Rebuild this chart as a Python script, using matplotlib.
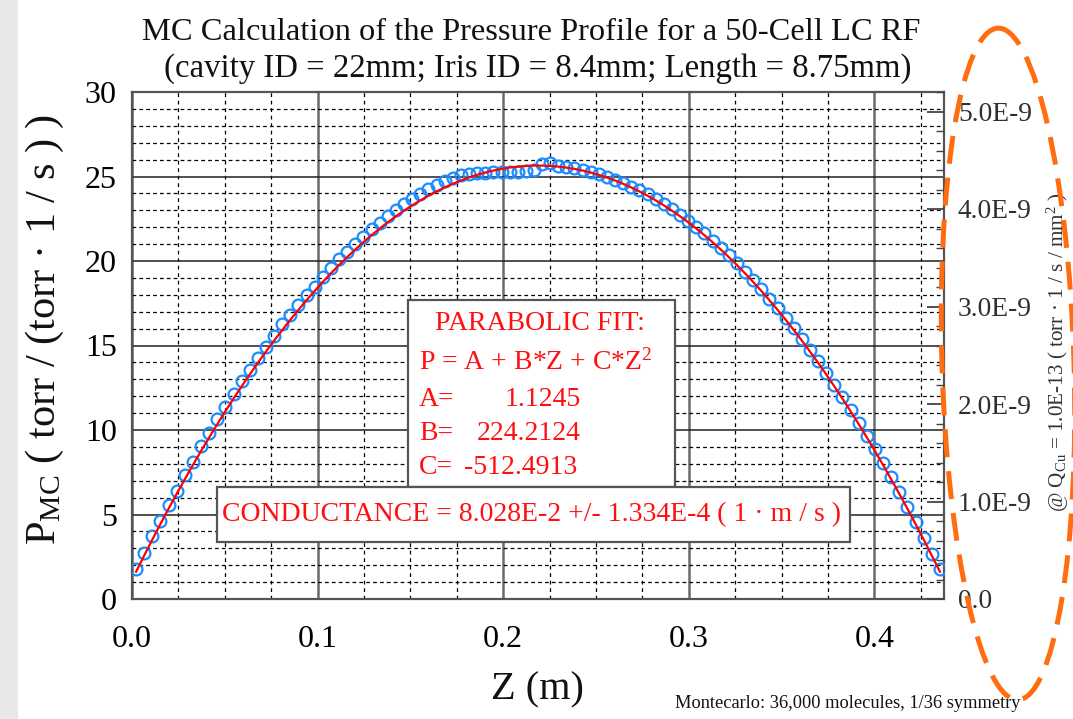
import numpy as np
import matplotlib
matplotlib.use("Agg")
import matplotlib.pyplot as plt
from matplotlib.patches import Ellipse, Rectangle
from matplotlib.ticker import MultipleLocator, FixedLocator

plt.rcParams['font.family'] = ['Liberation Serif', 'DejaVu Serif']
plt.rcParams['mathtext.fontset'] = 'custom'
plt.rcParams['mathtext.rm'] = 'Liberation Serif'
plt.rcParams['mathtext.it'] = 'Liberation Serif:italic'

# ---------------- data ----------------
z_m = [0.0022, 0.0066, 0.0109, 0.0153, 0.0197, 0.0241, 0.0284, 0.0328, 0.0372, 0.0416,
       0.0459, 0.0503, 0.0547, 0.0591, 0.0634, 0.0678, 0.0722, 0.0766, 0.0809, 0.0853,
       0.0897, 0.0941, 0.0984, 0.1028, 0.1072, 0.1116, 0.1159, 0.1203, 0.1247, 0.1291,
       0.1334, 0.1378, 0.1422, 0.1466, 0.1509, 0.1553, 0.1597, 0.1641, 0.1684, 0.1728,
       0.1772, 0.1816, 0.1859, 0.1903, 0.1947, 0.1991, 0.2034, 0.2078, 0.2122, 0.2166,
       0.2209, 0.2253, 0.2297, 0.2341, 0.2384, 0.2428, 0.2472, 0.2516, 0.2559, 0.2603,
       0.2647, 0.2691, 0.2734, 0.2778, 0.2822, 0.2866, 0.2909, 0.2953, 0.2997, 0.3041,
       0.3084, 0.3128, 0.3172, 0.3216, 0.3259, 0.3303, 0.3347, 0.3391, 0.3434, 0.3478,
       0.3522, 0.3566, 0.3609, 0.3653, 0.3697, 0.3741, 0.3784, 0.3828, 0.3872, 0.3916,
       0.3959, 0.4003, 0.4047, 0.4091, 0.4134, 0.4178, 0.4222, 0.4266, 0.4309, 0.4353]
p_mc = [1.76, 2.72, 3.72, 4.64, 5.54, 6.42, 7.34, 8.13, 9.05, 9.81,
        10.64, 11.36, 12.15, 12.88, 13.54, 14.27, 14.94, 15.59, 16.26, 16.82,
        17.41, 17.98, 18.48, 19.06, 19.57, 20.11, 20.53, 21.03, 21.41, 21.88,
        22.27, 22.69, 22.99, 23.38, 23.69, 23.99, 24.26, 24.51, 24.75, 24.92,
        25.06, 25.14, 25.20, 25.23, 25.25, 25.25, 25.28, 25.29, 25.33, 25.39,
        25.74, 25.80, 25.64, 25.58, 25.50, 25.40, 25.28, 25.15, 24.99, 24.81,
        24.62, 24.40, 24.21, 23.96, 23.69, 23.39, 23.08, 22.74, 22.39, 22.02,
        21.63, 21.21, 20.78, 20.33, 19.86, 19.37, 18.86, 18.33, 17.78, 17.21,
        16.62, 16.01, 15.39, 14.74, 14.07, 13.39, 12.68, 11.95, 11.21, 10.44,
        9.66, 8.85, 8.03, 7.19, 6.32, 5.44, 4.54, 3.62, 2.67, 1.76]

# parabolic fit coefficients (as printed on the chart)
fit_A = 1.1245
fit_B = 224.2124
fit_C = -512.4913

left_ticks = [0, 5, 10, 15, 20, 25, 30]
x_ticks = [0.0, 0.1, 0.2, 0.3, 0.4]
x_tick_labels = ["0.0", "0.1", "0.2", "0.3", "0.4"]
right_ticks = [0.0, 1.0e-9, 2.0e-9, 3.0e-9, 4.0e-9, 5.0e-9]
right_tick_labels = ["0.0", "1.0E-9", "2.0E-9", "3.0E-9", "4.0E-9", "5.0E-9"]

# ---------------- figure ----------------
W, H = 1073, 719
fig = plt.figure(figsize=(W / 100, H / 100), dpi=100)
fig.patch.set_facecolor('white')

def fx(x):
    return x / W

def fy(y):
    return 1 - y / H

L, R, T, B = 132, 944, 92, 599
ax = fig.add_axes([fx(L), fy(B), (R - L) / W, (B - T) / H])
ax.set_xlim(0, 0.4375)
ax.set_ylim(0, 30)

ax.xaxis.set_major_locator(FixedLocator(x_ticks))
ax.set_xticklabels(x_tick_labels)
ax.xaxis.set_minor_locator(MultipleLocator(0.025))
ax.yaxis.set_major_locator(FixedLocator(left_ticks))
ax.yaxis.set_minor_locator(MultipleLocator(1))

ax.grid(which='minor', axis='x', color='black', linestyle=(0, (3, 3)), linewidth=0.9)
ax.grid(which='minor', axis='y', color='black', linestyle=(0, (3, 2.5)), linewidth=0.9)
ax.grid(which='major', axis='x', color='#6a6a6a', linestyle='-', linewidth=1.8)
ax.grid(which='major', axis='y', color='#202020', linestyle='-', linewidth=1.1)
ax.set_axisbelow(True)

ax.tick_params(which='both', length=0)
ax.tick_params(axis='y', labelsize=23, pad=11)
ax.tick_params(axis='x', labelsize=23, pad=19)
for s in ax.spines.values():
    s.set_color('#555555')
    s.set_linewidth(1.6)

ax.plot(z_m, p_mc, linestyle='none', marker='o', markersize=8.5,
        markerfacecolor='none', markeredgecolor='#1a8cff', markeredgewidth=1.6, zorder=3)
zz = np.linspace(z_m[0], z_m[-1], 300)
ax.plot(zz, fit_A + fit_B * zz + fit_C * zz ** 2, color='#ff0000', linewidth=1.6, zorder=4)

# right axis
ax2 = ax.twinx()
ax2.set_ylim(0, 5.2e-9)
ax2.yaxis.set_major_locator(FixedLocator(right_ticks))
ax2.set_yticklabels(right_tick_labels)
ax2.yaxis.set_minor_locator(MultipleLocator(0.2e-9))
ax2.tick_params(axis='y', which='major', direction='in', length=12, width=1.3,
                color='#444444', labelsize=19.8, pad=10, labelcolor='#303030')
ax2.tick_params(axis='y', which='minor', direction='in', length=6, width=1.0, color='#444444')
for s in ax2.spines.values():
    s.set_visible(False)

# ---------------- overlay in pixel coords ----------------
ov = fig.add_axes([0, 0, 1, 1], facecolor='none')
ov.set_xlim(0, W)
ov.set_ylim(H, 0)
ov.axis('off')

# faint textured strip at left edge
ov.add_patch(Rectangle((0, 0), 18, H, facecolor='#e8e8e8', edgecolor='none', zorder=0))

# title
ov.text(531, 33, "MC Calculation of the Pressure Profile for a 50-Cell LC RF",
        ha='center', va='center', fontsize=23.4, color='#111111')
ov.text(538, 69, "(cavity ID = 22mm; Iris ID = 8.4mm; Length = 8.75mm)",
        ha='center', va='center', fontsize=23.6, color='#111111')

# axis labels
ov.text(45, 329, r"P$_{\mathrm{MC}}$ ( torr / (torr · 1 / s ) )", rotation=90,
        ha='center', va='center', fontsize=30.5, color='#111111')
ov.text(537, 690, "Z (m)", ha='center', va='center', fontsize=29, color='#111111')
ov.text(1058, 352, r"@ Q$_{\mathrm{Cu}}$ = 1.0E-13 ( torr · 1 / s / mm$^{2}$ )",
        rotation=90, ha='center', va='center', fontsize=15.2, color='#333333')
ov.text(848, 703, "Montecarlo: 36,000 molecules, 1/36 symmetry",
        ha='center', va='center', fontsize=13.2, color='#111111')

# parabolic fit box
ov.add_patch(Rectangle((408, 300), 267, 187, facecolor='white', edgecolor='#555555',
                       linewidth=1.6, zorder=2))
red = '#ff1010'
ov.text(540, 323, "PARABOLIC FIT:", ha='center', va='center', fontsize=20, color=red, zorder=3)
ov.text(419, 362, r"P = A + B*Z + C*Z$^{2}$", ha='left', va='center', fontsize=20,
        color=red, zorder=3)
ov.text(419, 400, "A=", ha='left', va='center', fontsize=20, color=red, zorder=3)
ov.text(581, 400, "1.1245", ha='right', va='center', fontsize=20, color=red, zorder=3)
ov.text(419, 433, "B=", ha='left', va='center', fontsize=20, color=red, zorder=3)
ov.text(581, 433, "224.2124", ha='right', va='center', fontsize=20, color=red, zorder=3)
ov.text(419, 467, "C=", ha='left', va='center', fontsize=20, color=red, zorder=3)
ov.text(577, 467, "-512.4913", ha='right', va='center', fontsize=20, color=red, zorder=3)

# conductance box
ov.add_patch(Rectangle((217, 487), 633, 55, facecolor='white', edgecolor='#555555',
                       linewidth=1.6, zorder=2))
ov.text(222, 515, "CONDUCTANCE = 8.028E-2 +/- 1.334E-4 ( 1 · m / s )",
        ha='left', va='center', fontsize=20, color=red, zorder=3)

# orange dashed ellipse
ov.add_patch(Ellipse((1008, 364), 132, 672, angle=-1.7, facecolor='none',
                     edgecolor='#ff6d10', linewidth=3.6, linestyle=(0, (5.6, 2.8)), zorder=5))

fig.savefig("out.png", dpi=100, facecolor='white')
